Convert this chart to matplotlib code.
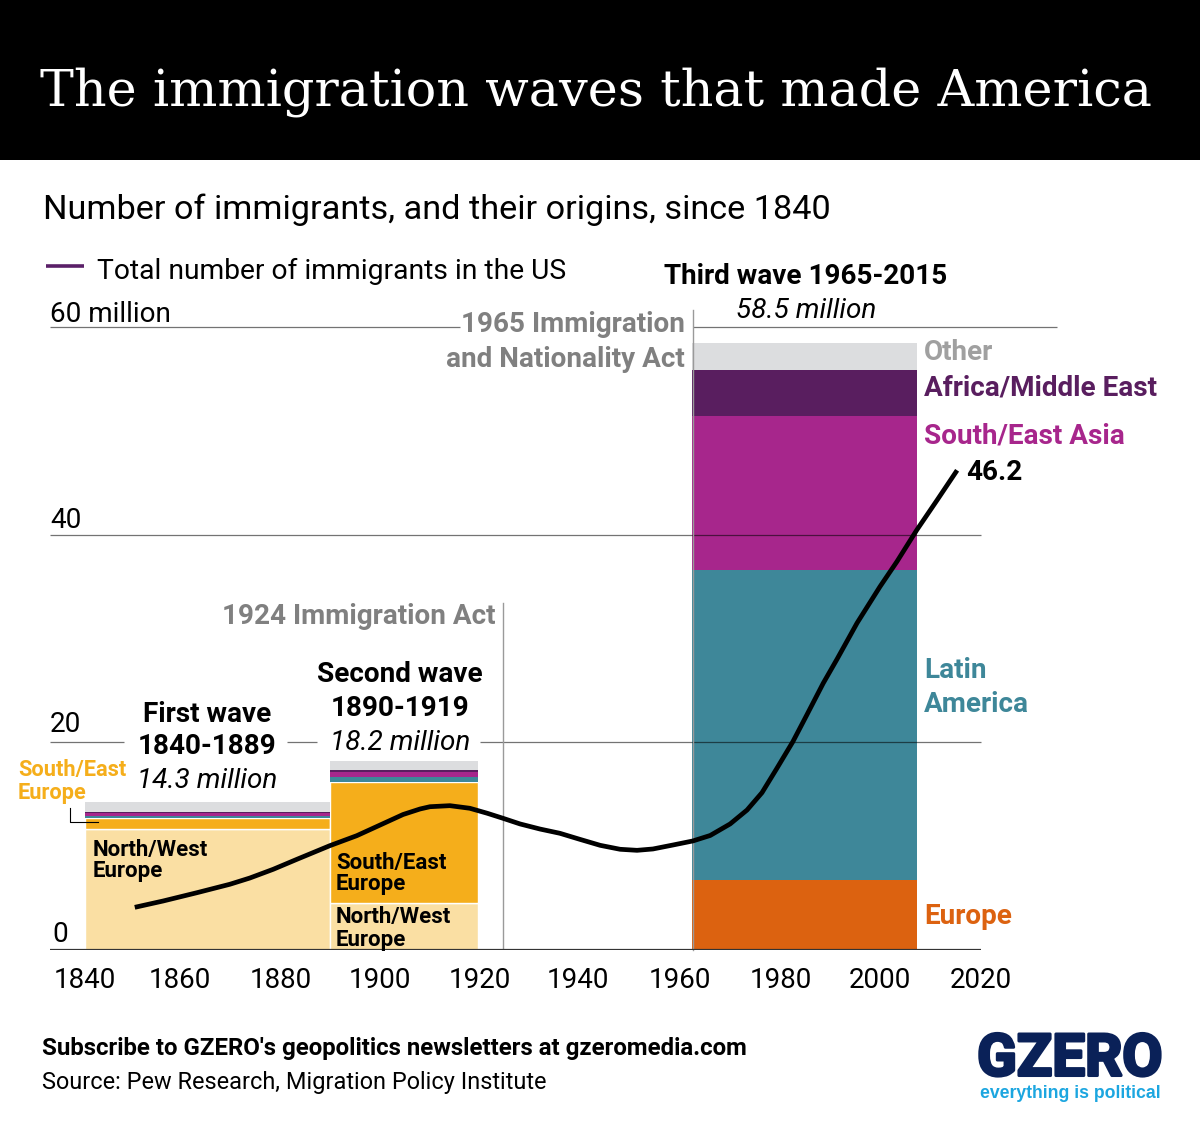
import matplotlib
matplotlib.use("Agg")
import matplotlib.pyplot as plt
import matplotlib.patheffects as pe
from matplotlib.patches import Rectangle

W, H = 1200, 1126

# ── Data ───────────────────────────────────────────────────────────────────────
wave_starts = [1840, 1889.2, 1962]
wave_ends = [1889.2, 1919, 2007.2]

north_west = [11.7, 4.5, 0]
south_east = [1.0, 11.7, 0]
europe = [0, 0, 6.7]
latin_america = [0.2, 0.5, 29.9]
south_east_asia = [0.3, 0.4, 14.8]
africa_me = [0.1, 0.2, 4.5]
other = [1.0, 0.9, 2.6]

line_years = [1850.0, 1855.7, 1862.5, 1869.1, 1873.1, 1877.8, 1882.6, 1889.2, 1894.6,
              1899.3, 1903.9, 1907.3, 1909.3, 1913.3, 1917.3, 1920.8, 1924.0, 1927.4,
              1931.4, 1935.4, 1939.4, 1943.5, 1947.5, 1950.9, 1954.1, 1958.1, 1962.1,
              1965.6, 1969.6, 1973.0, 1976.0, 1979.0, 1982.2, 1985.0, 1988.3, 1991.1,
              1995.1, 1999.7, 2003.1, 2007.1, 2011.2, 2015.2]
line_values = [4.11, 4.72, 5.52, 6.33, 6.93, 7.77, 8.74, 10.05, 11.01,
               12.04, 13.05, 13.58, 13.8, 13.9, 13.65, 13.17, 12.68, 12.14,
               11.65, 11.24, 10.66, 10.08, 9.70, 9.60, 9.73, 10.11, 10.5,
               11.03, 12.14, 13.48, 15.15, 17.5, 20.06, 22.63, 25.69, 28.03,
               31.49, 34.99, 37.4, 40.45, 43.34, 46.2]

x_ticks = [1840, 1860, 1880, 1900, 1920, 1940, 1960, 1980, 2000, 2020]
x_tick_px = [85, 180, 281, 380, 480, 578, 680, 781, 880, 981]

NW_COL = "#FADFA3"
SE_COL = "#F5AE1B"
EU_COL = "#DC6210"
LA_COL = "#3E8799"
AS_COL = "#A7268C"
AF_COL = "#591E5F"
OT_COL = "#DCDDDF"
GREY = "#808080"
NAVY = "#0A2158"
SKY = "#1CA6E0"

plt.rcParams["font.family"] = ["Roboto", "DejaVu Sans"]

fig = plt.figure(figsize=(W / 100, H / 100), dpi=100, facecolor="white")

# axes span px 50..1057 across, 327..950 down
ax = fig.add_axes([50 / W, 1 - 950 / H, (1057 - 50) / W, (950 - 327) / H])
PX_PER_YEAR = (981 - 85) / 180
def year(px):
    return 1840 + (px - 85) / PX_PER_YEAR
ax.set_xlim(year(50), year(1057))
ax.set_ylim(0, 60)
ax.axis("off")

def label(px, py, s, size=20.1, color="black", weight="normal", style="normal",
          ha="left", family=None, **kw):
    if family is not None:
        kw["family"] = family
    return fig.text(px / W, 1 - py / H, s, fontsize=size, color=color, fontweight=weight,
                    fontstyle=style, ha=ha, va="center", zorder=10, **kw)

# ── Header ─────────────────────────────────────────────────────────────────────
fig.add_artist(Rectangle((0, 1 - 160 / H), 1, 160 / H, transform=fig.transFigure,
                         facecolor="black", edgecolor="none"))
title = label(40, 92, "The immigration waves that made America", size=36, color="white",
              family="DejaVu Serif")
# DejaVu Serif is wider than the slab face of the original, so fit it to the span
fig.canvas.draw()
title.set_fontsize(36 * 1112 / title.get_window_extent().width)
label(43, 210, "Number of immigrants, and their origins, since 1840", size=24.7)

# legend
ax.plot([year(46), year(84)], [65.9, 65.9], color="#5A2068", lw=2.6, clip_on=False,
        solid_capstyle="butt")
label(97, 271, "Total number of immigrants in the US", size=20.3)

# ── Grid ───────────────────────────────────────────────────────────────────────
for y, segs in [(60, [(50, 460), (693, 1057)]),
                (40, [(50, 981)]),
                (20, [(50, 124), (287, 317), (480, 981)])]:
    for a, b in segs:
        ax.plot([year(a), year(b)], [y, y], color="black", alpha=0.55, lw=0.9, zorder=3,
                clip_on=False, solid_capstyle="butt")

label(50, 314, "60 million")
label(50, 520, "40")
label(50, 725, "20")
label(52, 934, "0")

# ── Bars ───────────────────────────────────────────────────────────────────────
widths = [e - s for s, e in zip(wave_starts, wave_ends)]
bottom = [0, 0, 0]
for vals, col in [(north_west, NW_COL), (south_east, SE_COL), (europe, EU_COL),
                  (latin_america, LA_COL), (south_east_asia, AS_COL),
                  (africa_me, AF_COL), (other, OT_COL)]:
    edged = col in (NW_COL, SE_COL)
    ax.bar(wave_starts, vals, width=widths, bottom=bottom, align="edge", color=col,
           edgecolor="white" if edged else "none", linewidth=1.0 if edged else 0, zorder=2)
    bottom = [b + v for b, v in zip(bottom, vals)]

# acts
ax.plot([year(503), year(503)], [0, 33.4], color="#9A9A9A", lw=1.0, zorder=3)
ax.plot([year(693), year(693)], [0, 61.6], color="#9A9A9A", lw=1.0, zorder=3, clip_on=False)

# total line
ax.plot(line_years, line_values, color="black", lw=3.4, zorder=5, solid_joinstyle="round",
        solid_capstyle="butt", clip_on=False)

# axis
ax.plot([year(50), year(981)], [0, 0], color="#333333", lw=1.6, zorder=6, solid_capstyle="butt")
for t, px in zip(x_ticks, x_tick_px):
    label(px, 980, str(t), size=20.0, ha="center")

# leader for South/East Europe
ax.plot([year(70), year(70), year(98)], [13.7, 12.3, 12.3], color="black", lw=0.8,
        zorder=6, clip_on=False)

# ── Annotations ────────────────────────────────────────────────────────────────
label(207, 714, "First wave", weight="bold", ha="center")
label(207, 747, "1840-1889", weight="bold", ha="center")
label(207, 781, "14.3 million", style="italic", ha="center")
label(400, 675, "Second wave", weight="bold", ha="center")
label(400, 709, "1890-1919", weight="bold", ha="center")
label(400, 743, "18.2 million", style="italic", ha="center")
label(806, 277, "Third wave 1965-2015", weight="bold", ha="center")
label(806, 311, "58.5 million", style="italic", ha="center")

label(495, 617, "1924 Immigration Act", weight="bold", color=GREY, ha="right")
label(685, 325, "1965 Immigration", weight="bold", color=GREY, ha="right")
label(685, 359, "and Nationality Act", weight="bold", color=GREY, ha="right")

label(18, 770, "South/East", size=15.7, weight="bold", color=SE_COL)
label(18, 793, "Europe", size=15.7, weight="bold", color=SE_COL)
label(93, 850, "North/West", size=16, weight="bold")
label(93, 871, "Europe", size=16, weight="bold")
label(336, 863, "South/East", size=16, weight="bold")
label(336, 884, "Europe", size=16, weight="bold")
label(336, 917, "North/West", size=16, weight="bold")
label(336, 940, "Europe", size=16, weight="bold")

label(924, 352, "Other", weight="bold", color="#A0A0A0")
label(924, 388, "Africa/Middle East", weight="bold", color=AF_COL)
label(924, 436, "South/East Asia", weight="bold", color=AS_COL)
label(924, 671, "Latin", weight="bold", color=LA_COL)
label(924, 705, "America", weight="bold", color=LA_COL)
label(924, 917, "Europe", weight="bold", color=EU_COL)
label(966, 472, "46.2", weight="bold")

# ── Footer ─────────────────────────────────────────────────────────────────────
label(42, 1048, "Subscribe to GZERO's geopolitics newsletters at gzeromedia.com", size=17.3, weight="bold")
label(42, 1083, "Source: Pew Research, Migration Policy Institute", size=16.9)
label(1070, 1060, "GZERO", size=42, weight="bold", color=NAVY, ha="center",
      path_effects=[pe.withStroke(linewidth=2.2, foreground=NAVY)])
label(1070, 1094, "everything is political", size=12.7, weight="bold", color=SKY, ha="center",
      family="Liberation Sans")

fig.savefig("out.png", dpi=100)
